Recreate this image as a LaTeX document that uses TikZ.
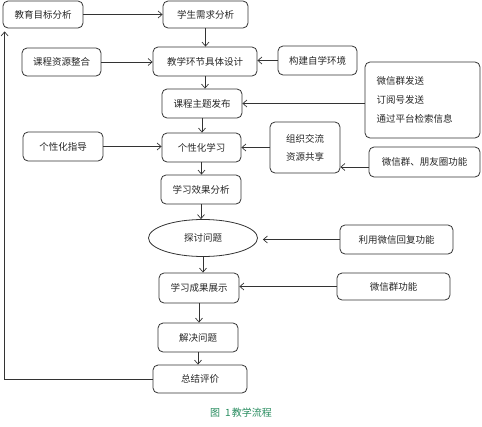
\documentclass[tikz,border=0pt]{standalone}
\usepackage{fontspec}
\newfontfamily\cjk{Noto Sans CJK SC}
\usetikzlibrary{arrows.meta,shapes.geometric}
\definecolor{capgreen}{RGB}{40,140,95}
\newcommand\bx[7][]{\node[box,#1, minimum width={(#5-#3)*1pt}, minimum height={(#6-#4)*1pt}] (#2) at ({(#3+#5)/2},{(#4+#6)/2}) {#7};}
\begin{document}
\begin{tikzpicture}[x=1pt,y=-1pt, font=\cjk\fontsize{9.5}{11}\selectfont,
 box/.style={draw=black!80, line width=0.8pt, rounded corners=5pt, inner sep=0pt, text=black!85},
 arr/.style={-{Straight Barb[length=4pt,width=7pt]}, line width=0.7pt, draw=black!80}]
\useasboundingbox (0,0) rectangle (482,426);
\bx{goal}{3}{1}{83}{28}{教育目标分析}
\bx{need}{163}{1}{248}{28}{学生需求分析}
\bx{res}{22}{48}{101}{76}{课程资源整合}
\bx{design}{153}{47}{257}{76}{教学环节具体设计}
\bx{env}{278}{46}{357}{75}{构建自学环境}
\bx{topic}{162}{89}{242}{118}{课程主题发布}
\bx[align=left, text width=92pt, inner xsep=0pt]{big}{365}{62}{480}{138}{微信群发送\\[8pt]订阅号发送\\[8pt]通过平台检索信息}
\bx{guide}{23}{132}{103}{161}{个性化指导}
\bx{pers}{162}{133}{241}{162}{个性化学习}
\bx[align=left]{org}{270}{122}{340}{173}{组织交流\\[7pt]资源共享}
\bx{wx}{369}{147}{480}{177}{微信群、朋友圈功能}
\bx{effect}{161}{175}{241}{204}{学习效果分析}
\node[draw=black!80, line width=0.8pt, ellipse, minimum width=109pt, minimum height=37pt, inner sep=0pt, text=black!85] (disc) at (203,238) {探讨问题};
\bx{reply}{340}{225}{453}{254}{利用微信回复功能}
\bx{result}{159}{273}{239}{303}{学习成果展示}
\bx{wxg}{337}{273}{450}{300}{微信群功能}
\bx{solve}{158}{323}{238}{352}{解决问题}
\bx{sum}{153}{365}{247}{393}{总结评价}
\node[text=capgreen, font=\cjk\fontsize{10}{12}\selectfont] (cap) at (241,413) {图\hspace{5pt}1\hspace{1pt}教学流程};

\draw[arr] (goal.east) -- (goal.east -| need.west);
\draw[arr] (need.south) -- (need.south |- design.north);
\draw[arr] (res.east) -- (res.east -| design.west);
\draw[arr] (env.west) -- (env.west -| design.east);
\draw[arr] (design.south) -- (design.south |- topic.north);
\draw[arr] (topic.east -| big.west) -- (topic.east);
\draw[arr] (topic.south) -- (topic.south |- pers.north);
\draw[arr] (guide.east) -- (guide.east -| pers.west);
\draw[arr] (org.west) -- (org.west -| pers.east);
\draw[arr] ([yshift=-5pt]wx.west) -- ([yshift=-5pt]wx.west -| org.east);
\draw[arr] (pers.south) -- (pers.south |- effect.north);
\draw[arr] (effect.south) -- (effect.south |- disc.north);
\draw[arr, shorten >=5pt] (reply.west) -- (reply.west -| disc.east);
\draw[arr] (disc.south) -- (disc.south |- result.north);
\draw[arr] (wxg.west) -- (wxg.west -| result.east);
\draw[arr] (result.south) -- (result.south |- solve.north);
\draw[arr] (solve.south) -- (solve.south |- sum.north);
\draw[arr, shorten >=3pt] (sum.west) -| ([xshift=2pt]goal.south west);
\end{tikzpicture}
\end{document}
